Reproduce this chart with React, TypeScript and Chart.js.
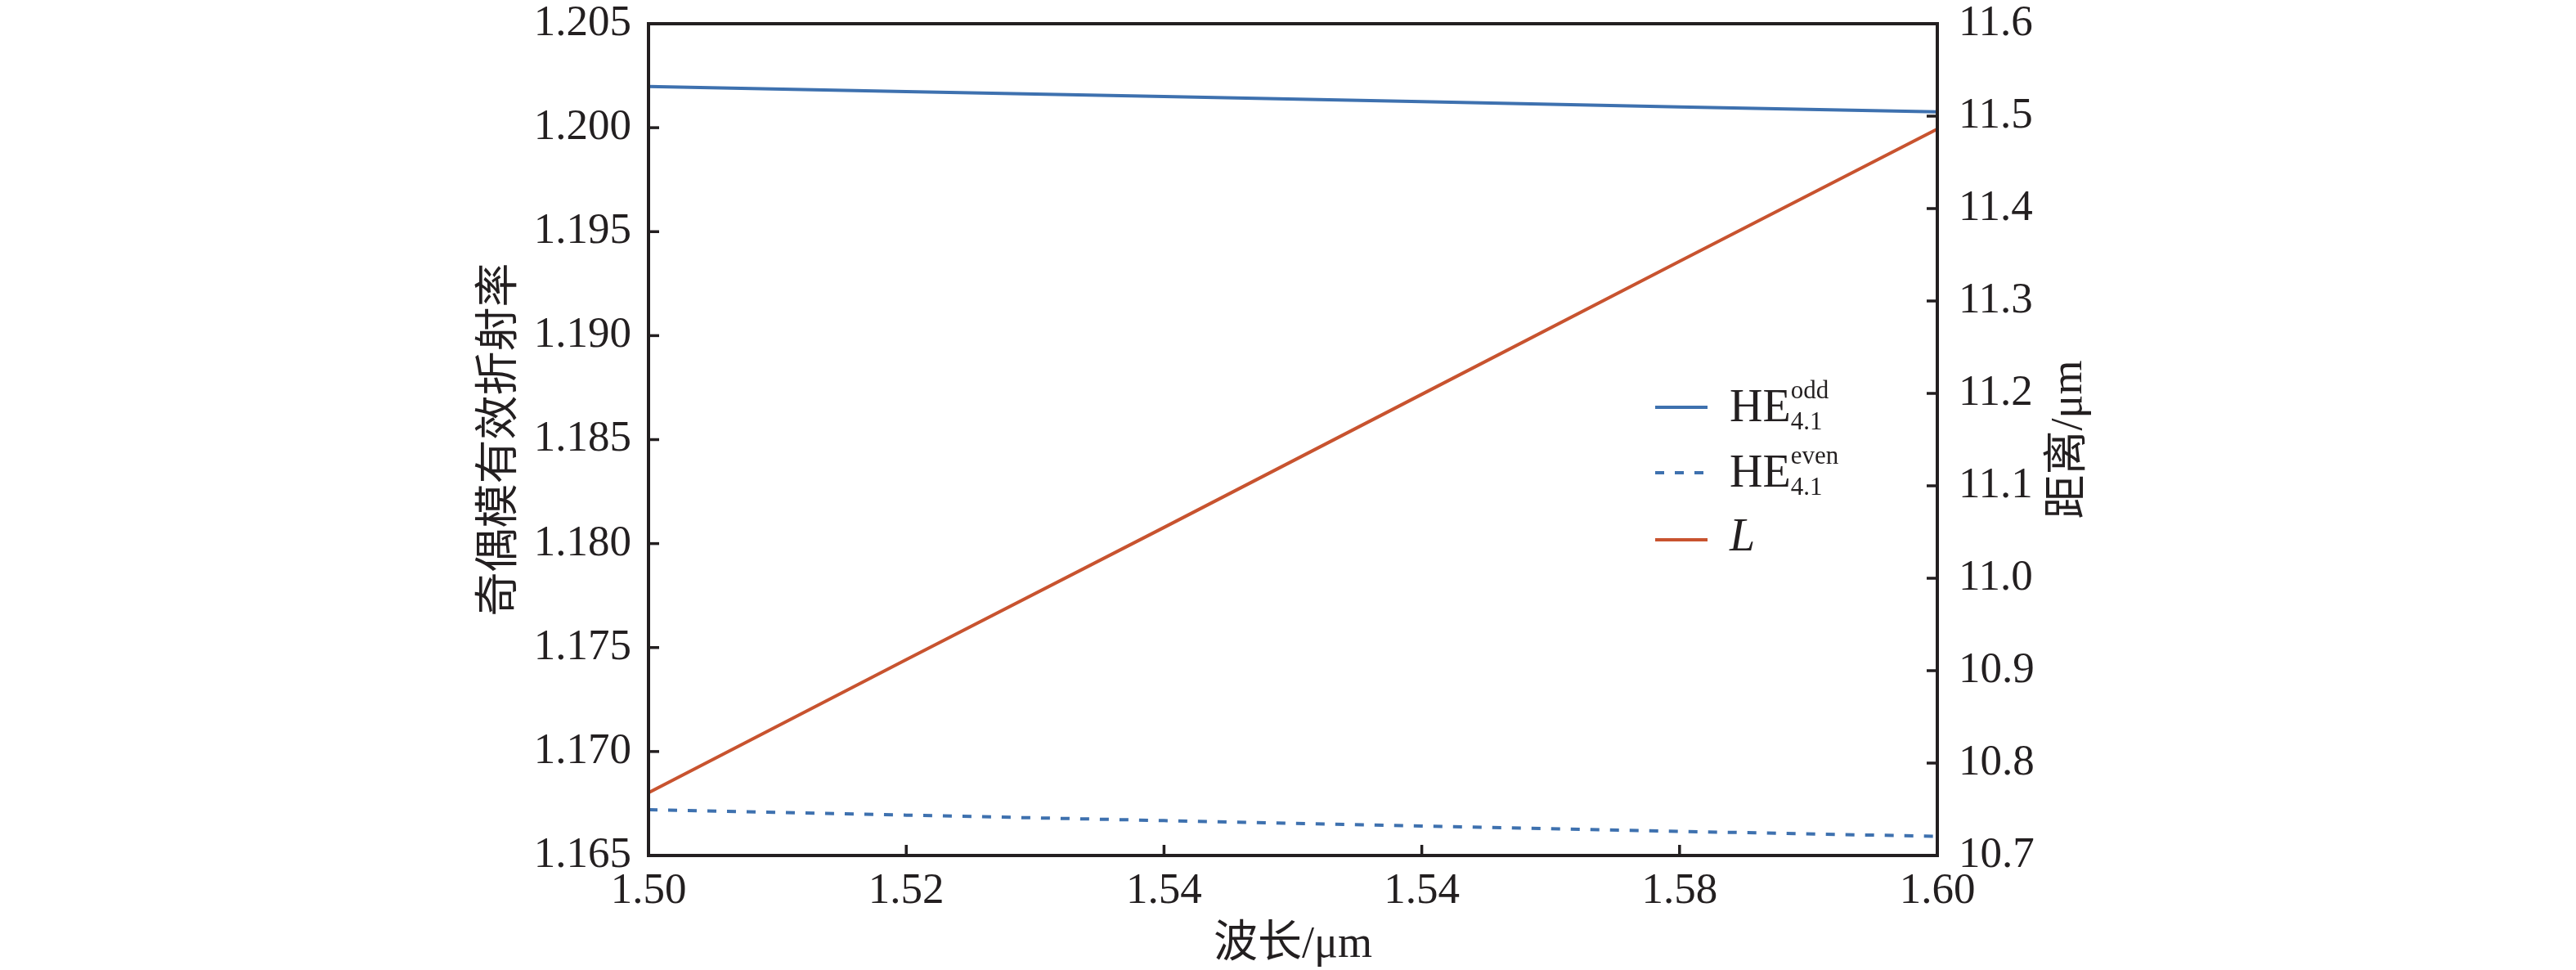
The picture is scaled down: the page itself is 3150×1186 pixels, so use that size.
import React, { useEffect, useRef } from 'react';
import { Chart, registerables } from 'chart.js';

Chart.register(...registerables);

// ---- data ----
const wavelengths = [1.50, 1.52, 1.54, 1.56, 1.58, 1.60];
const heOdd = [1.20198, 1.20174, 1.20150, 1.20125, 1.20100, 1.20076];
const heEven = [1.16720, 1.16694, 1.16668, 1.16642, 1.16616, 1.16592];
const distanceL = [10.768, 10.912, 11.055, 11.199, 11.343, 11.486];

const xTickValues = [1.50, 1.52, 1.54, 1.56, 1.58, 1.60];
const xTickLabels = ['1.50', '1.52', '1.54', '1.54', '1.58', '1.60'];
const leftTickValues = [1.165, 1.170, 1.175, 1.180, 1.185, 1.190, 1.195, 1.200, 1.205];
const leftTickLabels = ['1.165', '1.170', '1.175', '1.180', '1.185', '1.190', '1.195', '1.200', '1.205'];
const rightTickValues = [10.7, 10.8, 10.9, 11.0, 11.1, 11.2, 11.3, 11.4, 11.5, 11.6];
const rightTickLabels = ['10.7', '10.8', '10.9', '11.0', '11.1', '11.2', '11.3', '11.4', '11.5', '11.6'];

const legendItems = [
  { base: 'HE', sup: 'odd', sub: '4.1', italic: false },
  { base: 'HE', sup: 'even', sub: '4.1', italic: false },
  { base: 'L', sup: '', sub: '', italic: true },
];

const xTitle = '波长/μm';
const leftTitle = '奇偶模有效折射率';
const rightTitle = '距离/μm';

const BLUE = '#3E71AF';
const RED = '#C8532F';
const INK = '#231f20';
const SERIF = "'Liberation Serif', 'Noto Sans CJK SC', serif";

const W = 3150;
const H = 1186;

const framePlugin = {
  id: 'frameAndDecor',
  afterDraw(chart: any) {
    const { ctx, chartArea } = chart;
    const { left, right, top, bottom } = chartArea;
    ctx.save();
    ctx.strokeStyle = INK;
    ctx.lineWidth = 4;
    ctx.lineCap = 'butt';
    ctx.strokeRect(left, top, right - left, bottom - top);

    ctx.lineWidth = 3.5;
    const tickLen = 13;
    const xs = chart.scales.x;
    xs.ticks.forEach((t: any) => {
      const px = xs.getPixelForValue(t.value);
      ctx.beginPath();
      ctx.moveTo(px, bottom);
      ctx.lineTo(px, bottom - tickLen);
      ctx.stroke();
    });
    const ys = chart.scales.y;
    ys.ticks.forEach((t: any) => {
      const py = ys.getPixelForValue(t.value);
      ctx.beginPath();
      ctx.moveTo(left, py);
      ctx.lineTo(left + tickLen, py);
      ctx.stroke();
    });
    const y1 = chart.scales.y1;
    y1.ticks.forEach((t: any) => {
      const py = y1.getPixelForValue(t.value);
      ctx.beginPath();
      ctx.moveTo(right, py);
      ctx.lineTo(right - tickLen, py);
      ctx.stroke();
    });

    // axis titles
    ctx.fillStyle = INK;
    ctx.font = `54px ${SERIF}`;
    ctx.textAlign = 'center';
    ctx.textBaseline = 'middle';
    const cy = (top + bottom) / 2;
    ctx.fillText(xTitle, (left + right) / 2, 1156);
    ctx.save();
    ctx.translate(613, cy);
    ctx.rotate(-Math.PI / 2);
    ctx.fillText(leftTitle, 0, 0);
    ctx.restore();
    ctx.save();
    ctx.translate(2531, cy);
    ctx.rotate(-Math.PI / 2);
    ctx.fillText(rightTitle, 0, 0);
    ctx.restore();

    // legend
    const colors = [BLUE, BLUE, RED];
    const dashes = [[], [11, 13], []];
    const lineYs = [498, 578, 660];
    const baseYs = [515, 595, 673];
    legendItems.forEach((it, i) => {
      ctx.save();
      ctx.strokeStyle = colors[i];
      ctx.lineWidth = 4;
      ctx.setLineDash(dashes[i]);
      ctx.beginPath();
      ctx.moveTo(2024, lineYs[i]);
      ctx.lineTo(2088, lineYs[i]);
      ctx.stroke();
      ctx.restore();
      ctx.fillStyle = INK;
      ctx.textAlign = 'left';
      ctx.textBaseline = 'alphabetic';
      ctx.font = `${it.italic ? 'italic ' : ''}56px ${SERIF}`;
      const bx = 2115;
      ctx.fillText(it.base, bx, baseYs[i]);
      const w = ctx.measureText(it.base).width;
      ctx.font = `31px ${SERIF}`;
      if (it.sup) ctx.fillText(it.sup, bx + w, baseYs[i] - 28);
      if (it.sub) ctx.fillText(it.sub, bx + w, baseYs[i] + 10);
    });
    ctx.restore();
  },
};

export default function App() {
  const ref = useRef<HTMLCanvasElement | null>(null);
  useEffect(() => {
    if (!ref.current) return;
    const tickFont = { family: SERIF, size: 53 };
    const chart = new Chart(ref.current, {
      type: 'line',
      data: {
        datasets: [
          {
            label: 'HE odd 4.1',
            data: wavelengths.map((x, i) => ({ x, y: heOdd[i] })),
            borderColor: BLUE,
            borderWidth: 4,
            pointRadius: 0,
            yAxisID: 'y',
          },
          {
            label: 'HE even 4.1',
            data: wavelengths.map((x, i) => ({ x, y: heEven[i] })),
            borderColor: BLUE,
            borderWidth: 4,
            borderDash: [11, 13],
            pointRadius: 0,
            yAxisID: 'y',
          },
          {
            label: 'L',
            data: wavelengths.map((x, i) => ({ x, y: distanceL[i] })),
            borderColor: RED,
            borderWidth: 4,
            pointRadius: 0,
            yAxisID: 'y1',
          },
        ],
      },
      options: {
        animation: false,
        responsive: true,
        maintainAspectRatio: false,
        devicePixelRatio: 1,
        layout: { padding: { top: 29, left: 0, right: 0, bottom: 0 } },
        plugins: { legend: { display: false }, tooltip: { enabled: false } },
        scales: {
          x: {
            type: 'linear',
            position: 'bottom',
            min: 1.5,
            max: 1.6,
            afterBuildTicks: (s: any) => { s.ticks = xTickValues.map((v) => ({ value: v })); },
            afterFit: (s: any) => { s.height = H - 1046; s.paddingLeft = 0; s.paddingRight = 0; },
            grid: { display: false, drawTicks: false },
            border: { display: false },
            ticks: {
              font: tickFont,
              color: INK,
              padding: 12,
              maxRotation: 0,
              autoSkip: false,
              callback: (_v: any, i: number) => xTickLabels[i],
            },
          },
          y: {
            type: 'linear',
            position: 'left',
            min: 1.165,
            max: 1.205,
            afterBuildTicks: (s: any) => { s.ticks = leftTickValues.map((v) => ({ value: v })); },
            afterFit: (s: any) => { s.width = 793; s.paddingTop = 0; s.paddingBottom = 0; },
            grid: { display: false, drawTicks: false },
            border: { display: false },
            ticks: {
              font: tickFont,
              color: INK,
              padding: 21,
              autoSkip: false,
              callback: (_v: any, i: number) => leftTickLabels[i],
            },
          },
          y1: {
            type: 'linear',
            position: 'right',
            min: 10.7,
            max: 11.6,
            afterBuildTicks: (s: any) => { s.ticks = rightTickValues.map((v) => ({ value: v })); },
            afterFit: (s: any) => { s.width = W - 2369; s.paddingTop = 0; s.paddingBottom = 0; },
            grid: { display: false, drawTicks: false },
            border: { display: false },
            ticks: {
              font: tickFont,
              color: INK,
              padding: 26,
              autoSkip: false,
              callback: (_v: any, i: number) => rightTickLabels[i],
            },
          },
        },
      },
      plugins: [framePlugin],
    } as any);
    return () => chart.destroy();
  }, []);
  return (
    <div style={{ position: 'fixed', left: 0, top: 0, width: W, height: H, background: '#fff' }}>
      <canvas ref={ref} />
    </div>
  );
}
